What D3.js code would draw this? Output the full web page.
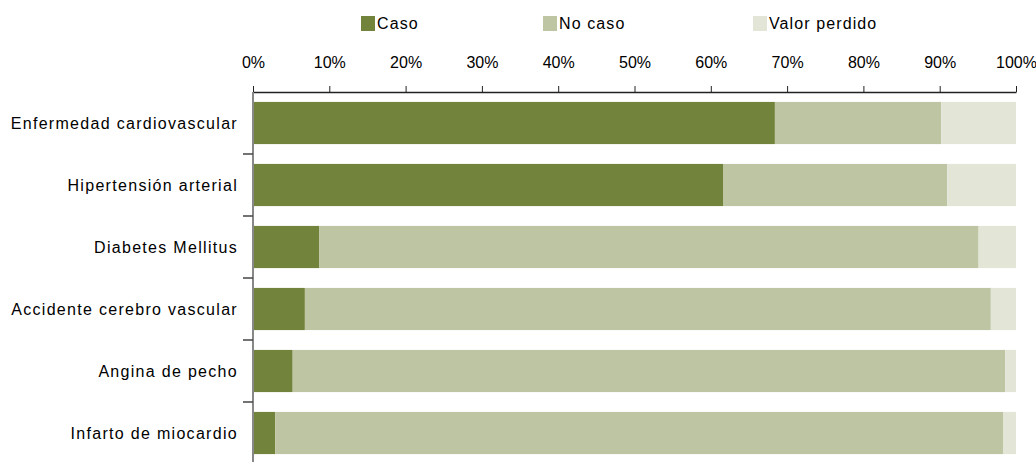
<!DOCTYPE html>
<html>
  <head>
    <style>
      body { margin: 0; background: #fff; }
      svg { display: block; font-family: "Liberation Sans", Arial, sans-serif; }
      .tick text { font-size: 16px; fill: #000; }
      .legend-text { font-size: 16px; fill: #000; letter-spacing: 1.1px; }
      .cat-text { font-size: 16px; fill: #000; letter-spacing: 1.3px; }
    </style>
  </head>
  <body>
    <script src="https://d3js.org/d3.v7.min.js"></script>
    <svg></svg>
    <script>
      // Data (percent)
      const categories = [
        "Enfermedad cardiovascular",
        "Hipertensión arterial",
        "Diabetes Mellitus",
        "Accidente cerebro vascular",
        "Angina de pecho",
        "Infarto de miocardio"
      ];
      const seriesNames = ["Caso", "No caso", "Valor perdido"];
      const caso = [68.4, 61.6, 8.7, 6.8, 5.2, 2.9];
      const noCaso = [21.8, 29.4, 86.4, 89.9, 93.4, 95.4];
      const valorPerdido = [9.8, 9.0, 4.9, 3.3, 1.4, 1.7];
      const xTicks = [0, 10, 20, 30, 40, 50, 60, 70, 80, 90, 100];
      const colors = ["#72833b", "#bec5a3", "#e3e5d7"];

      const W = 1036, H = 462;
      const margin = { top: 92, right: 20, bottom: 0, left: 253 };

      const svg = d3.select("svg").attr("width", W).attr("height", H);

      const table = categories.map((c, i) => ({
        cat: c,
        "Caso": caso[i],
        "No caso": noCaso[i],
        "Valor perdido": valorPerdido[i]
      }));
      const stacked = d3.stack().keys(seriesNames)(table);

      const x = d3.scaleLinear().domain([0, 100]).range([margin.left, 1016]);
      const y = d3.scaleBand()
        .domain(categories)
        .range([margin.top, margin.top + 62 * categories.length])
        .paddingInner(0.32)
        .paddingOuter(0.16);

      // bars
      svg.append("g")
        .selectAll("g")
        .data(stacked)
        .join("g")
        .attr("fill", (d, i) => colors[i])
        .selectAll("rect")
        .data(d => d)
        .join("rect")
        .attr("x", d => x(d[0]))
        .attr("width", d => x(d[1]) - x(d[0]))
        .attr("y", d => y(d.data.cat))
        .attr("height", y.bandwidth());

      // top axis
      const xAxis = svg.append("g")
        .attr("transform", `translate(0,${margin.top})`)
        .call(d3.axisTop(x).tickValues(xTicks).tickFormat(d => d + "%")
          .tickSize(6).tickSizeOuter(0).tickPadding(18));
      xAxis.select(".domain").attr("stroke", "#222").attr("stroke-width", 1.5);
      xAxis.selectAll(".tick line").attr("stroke", "#222");

      // left axis: gray line with ticks between categories
      const yAxis = svg.append("g");
      yAxis.append("line")
        .attr("x1", margin.left).attr("x2", margin.left)
        .attr("y1", margin.top).attr("y2", H)
        .attr("stroke", "#888").attr("stroke-width", 2);
      const step = y.step();
      d3.range(1, categories.length).forEach(k => {
        yAxis.append("line")
          .attr("x1", margin.left - 10).attr("x2", margin.left)
          .attr("y1", margin.top + k * step).attr("y2", margin.top + k * step)
          .attr("stroke", "#444").attr("stroke-width", 1.5);
      });
      yAxis.selectAll("text")
        .data(categories)
        .join("text")
        .attr("class", "cat-text")
        .attr("x", margin.left - 15)
        .attr("y", d => y(d) + y.bandwidth() / 2)
        .attr("dy", "0.35em")
        .attr("text-anchor", "end")
        .text(d => d);

      // legend
      const legendX = [361, 543, 753];
      const legend = svg.append("g")
        .selectAll("g")
        .data(seriesNames)
        .join("g")
        .attr("transform", (d, i) => `translate(${legendX[i]},16)`);
      legend.append("rect")
        .attr("width", 14).attr("height", 15)
        .attr("fill", (d, i) => colors[i]);
      legend.append("text")
        .attr("class", "legend-text")
        .attr("x", 16).attr("y", 7.5).attr("dy", "0.35em")
        .text(d => d);
    </script>
  </body>
</html>
